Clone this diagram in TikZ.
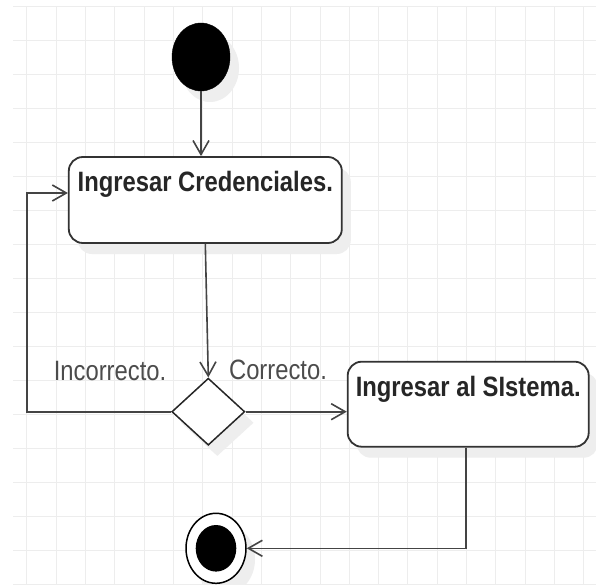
\documentclass[tikz,border=0pt]{standalone}
\usepackage{fontspec}
\setmainfont{Liberation Sans}[FakeStretch=0.85]
\usetikzlibrary{shapes.geometric}
\usetikzlibrary{positioning}
\usetikzlibrary{arrows.meta}
\usetikzlibrary{shadows}
\definecolor{gridgray}{HTML}{EDEDED}
\definecolor{linegray}{HTML}{444444}
\definecolor{shadowgray}{HTML}{EEEEEE}

\begin{document}
\begin{tikzpicture}[x=1pt, y=-1pt,
        castshadow/.style={drop shadow={shadow xshift=9pt, shadow yshift=-11pt, fill=shadowgray, opacity=1}},
        activity/.style={draw=black!80, line width=1.8pt, rectangle, rounded corners=14pt, fill=white, castshadow,
            font=\fontsize{28}{30}\selectfont\bfseries, text=black!85, text height=20pt, text depth=36pt},
        flow/.style={draw=linegray, line width=1.6pt, -{Straight Barb[length=14pt, width=16pt]}},
        guard/.style={font=\fontsize{28}{30}\selectfont, text=black!70, anchor=base}]
            \useasboundingbox (0,0) rectangle (596,585);
            \fill[white] (0,0) rectangle (596,585);
            
            % grid
            \foreach \gx in {0,...,19}
                \draw[gridgray, line width=1pt] (26.7+29.33*\gx,6.7) -- (26.7+29.33*\gx,585);
            \foreach \gy in {0,...,17}
                \draw[gridgray, line width=1pt] (13,6.7+34*\gy) -- (596,6.7+34*\gy);
            
            \node[draw=black, fill=black, ellipse, minimum width=58, minimum height=68, inner sep=0pt, castshadow] (start) at (201,57) {};
            \node[activity, minimum width=273, minimum height=86] (cred) at (205.3,200) {Ingresar Credenciales.};
            \node[draw=black!85, line width=1.5pt, diamond, fill=white, minimum width=73, minimum height=67, inner sep=0pt, castshadow] (check) at (208.3,411.7) {};
            \node[activity, minimum width=241, minimum height=85] (system) at (468.2,404.2) {Ingresar al SIstema.};
            \node[draw=black, line width=1.5pt, ellipse, fill=white, minimum width=60, minimum height=70, inner sep=0pt, castshadow] (finish) at (216,548.3) {};
            \node[fill=black, ellipse, minimum width=40.6, minimum height=46.6, inner sep=0pt] (finishdot) at (finish) {};
            
            \node[guard] (wrong) at (110,380) {Incorrecto.};
            \node[guard] (right) at (278,379) {Correcto.};
            
            \coordinate (back) at (26.7,411.7);
            \draw[flow] (start) -- (start |- cred.north);
            \draw[flow] (cred.south) -- (check.north);
            \draw[flow] (check.east) -- (system.west |- check.east);
            \draw[flow] (check.west) -- (back) |- ([yshift=7pt]cred.west);
            \draw[flow] ([xshift=-2.5pt]system.south) |- (finish.east);
        \end{tikzpicture}
\end{document}
